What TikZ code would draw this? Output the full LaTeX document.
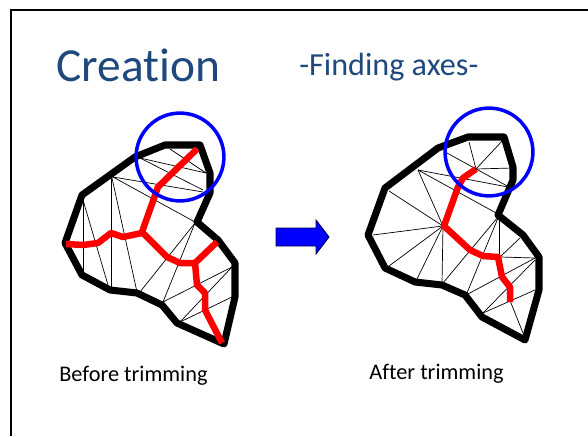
\documentclass[tikz,border=0pt]{standalone}
\usepackage{fontspec}
\setmainfont[Ligatures=NoCommon]{Carlito}
\usetikzlibrary{shapes,arrows,positioning,calc}

\begin{document}
\begin{tikzpicture}[
    x=0.02cm, y=-0.02cm,
    outline/.style={draw=black, line width=4pt, line join=round},
    axis/.style={draw=red, line width=3.7pt, line join=round},
    mesh/.style={draw=black, line width=0.4pt},
    lens/.style={circle, draw=blue, line width=2pt, inner sep=0pt, minimum size=50pt},
    caption/.style={font=\fontsize{12.7pt}{15pt}\selectfont, text=black, inner sep=0pt},
    heading/.style={text=titleblue, inner sep=0pt}
]
    \definecolor{titleblue}{HTML}{1F497D}
    \useasboundingbox (0,0) rectangle (588,436);
    \draw[line width=1.5pt] (11,436) -- (11,10) -- (588,10);

    \node[heading, font=\fontsize{27pt}{32pt}\selectfont, anchor=base west] (title) at (56,81) {Creation};
    \node[heading, font=\fontsize{18.3pt}{22pt}\selectfont, anchor=base west] (subtitle) at (299,75) {-Finding axes-};

    % before trimming
    \foreach \xa/\ya/\xb/\yb in {140/158/206/173, 140/158/203/190, 170/149/206/173, 113/177/203/192, 113/177/195/222,
        111/178/111/287, 112/178/137/292, 83/200/83/273, 83/200/108/285, 195/223/140/292,
        195/223/163/302, 232/267/163/302, 232/267/180/322, 232/297/180/322}
        \draw[mesh] (\xa,\ya) -- (\xb,\yb);
    \draw[outline] (165,145) -- (200,145) -- (210,173) -- (210,193) -- (197,222) -- (218,240) -- (235,263)
        -- (235,297) -- (224,344) -- (177,323) -- (162,305) -- (137,293) -- (110,290) -- (82,275)
        -- (65,243) -- (82,195) -- (135,157) -- cycle;
    \draw[axis] (197,149) -- (158,187) -- (142,232) -- (167,257) -- (180,263) -- (195,263) -- (217,242);
    \draw[axis] (195,263) -- (197,285) -- (205,293) -- (205,310) -- (222,343);
    \draw[axis] (142,233) -- (123,237) -- (111,233) -- (98,243) -- (83,245) -- (66,244);
    \node[lens] (lensa) at (180,157) {};

    % after trimming
    \foreach \xa/\ya/\xb/\yb in {443/226/389/191, 443/226/373/235, 443/226/389/266, 443/226/417/279, 443/226/442/283, 443/226/418/170,
        418/170/508/187, 418/170/498/214, 447/153/509/187, 469/142/476/169, 476/169/503/140, 476/169/513/168,
        498/217/443/283, 498/218/467/293, 499/218/499/255, 520/238/500/257, 500/257/535/258,
        535/258/468/294, 535/260/483/313, 535/290/483/313, 507/293/523/333}
        \draw[mesh] (\xa,\ya) -- (\xb,\yb);
    \draw[outline] (468,137) -- (504,137) -- (513,167) -- (513,180) -- (498,215) -- (523,235) -- (539,257)
        -- (539,290) -- (525,340) -- (482,317) -- (465,295) -- (442,285) -- (415,282) -- (385,268)
        -- (368,235) -- (385,188) -- (438,148) -- cycle;
    \draw[axis] (476,169) -- (463,178) -- (458,187) -- (444,226) -- (470,250) -- (483,256) -- (498,257)
        -- (502,277) -- (510,287) -- (510,302);
    \node[lens] (lensb) at (489,152) {};

    \filldraw[fill=blue, draw=black!70!blue, line width=0.5pt] (276,228) -- (316,228) -- (316,220) -- (329,237)
        -- (316,254) -- (316,246) -- (276,246) -- cycle;

    \node[caption, anchor=base west] (before) at (59,381) {Before trimming};
    \node[caption, anchor=base west] (after) at (369,379) {After trimming};
\end{tikzpicture}
\end{document}
